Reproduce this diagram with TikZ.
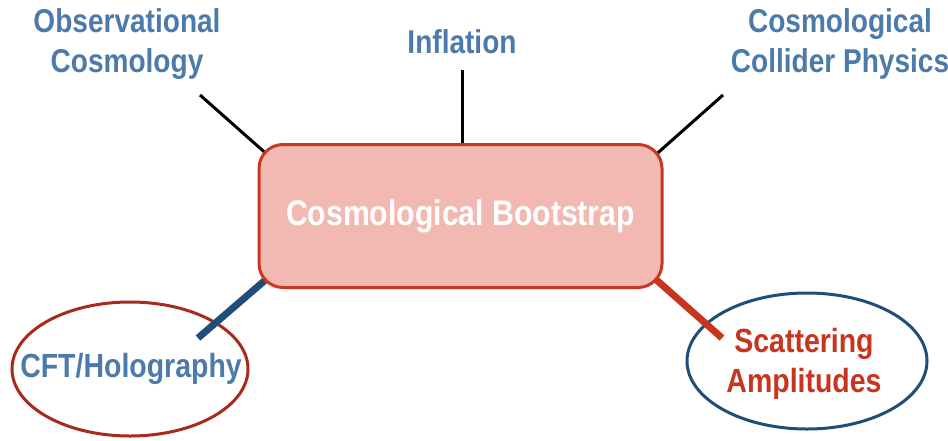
\documentclass[tikz,border=0pt]{standalone}
\usepackage{fontspec}
\newfontfamily\cond{Liberation Sans}[FakeStretch=0.85]
\usetikzlibrary{shapes.geometric}
\definecolor{labblue}{RGB}{76,122,170}
\definecolor{boxfill}{RGB}{242,184,178}
\definecolor{boxdraw}{RGB}{200,56,32}
\definecolor{darkblue}{RGB}{31,78,122}
\definecolor{scred}{RGB}{200,52,30}
\definecolor{cftred}{RGB}{168,42,26}
\tikzset{
  toplabel/.style={text=labblue, font=\cond\bfseries\fontsize{33}{40}\selectfont, align=center, inner sep=0pt},
  mainbox/.style={draw=boxdraw, fill=boxfill, line width=3pt, rounded corners=24pt, minimum width=403pt, minimum height=143pt, text=white, font=\cond\bfseries\fontsize{35.5}{40}\selectfont},
  oval/.style={ellipse, line width=3pt, inner sep=0pt},
  ovaltext/.style={font=\cond\bfseries\fontsize{33.5}{40}\selectfont, align=center, inner sep=0pt},
  thin connector/.style={line width=3pt, black},
  thick connector/.style={line width=7pt},
}
\begin{document}
\begin{tikzpicture}[x=1pt,y=-1pt]
\useasboundingbox (0,0) rectangle (948,440);
% top labels
\node[toplabel] (obs) at (127,44) {Observational\\Cosmology};
\node[toplabel] (inf) at (462,42) {Inflation};
\node[toplabel] (col) at (840,44) {Cosmological\\Collider Physics};
% ellipses
\node[oval, draw=cftred, minimum width=236pt, minimum height=134pt] (cft) at (130,369) {};
\node[ovaltext, text=labblue] (cfttext) at (131,369) {CFT/Holography};
\node[oval, draw=darkblue, minimum width=240pt, minimum height=136pt] (sca) at (807,361) {};
\node[ovaltext, text=scred] (scatext) at (804,364) {Scattering\\Amplitudes};
% connector ends
\coordinate (o1) at (200,95);
\coordinate (o1e) at (270,157);
\coordinate (i1) at (462,70);
\coordinate (i1e) at (462,150);
\coordinate (c1) at (723,95);
\coordinate (c1e) at (652,158);
\coordinate (h1) at (198,338);
\coordinate (h1e) at (270,276);
\coordinate (s1) at (722,338);
\coordinate (s1e) at (652,276);
\draw[thin connector] (o1) -- (o1e);
\draw[thin connector] (i1) -- (i1e);
\draw[thin connector] (c1) -- (c1e);
\draw[thick connector, darkblue] (h1) -- (h1e);
\draw[thick connector, scred] (s1) -- (s1e);
% central box
\node[mainbox] (box) at (460.5,216) {Cosmological Bootstrap};
\end{tikzpicture}
\end{document}
